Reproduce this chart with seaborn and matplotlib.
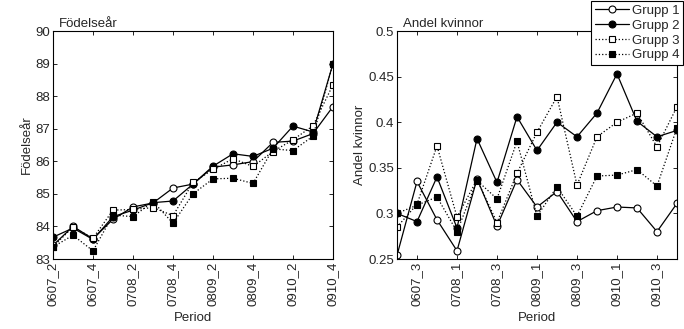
import numpy as np
import pandas as pd
import matplotlib
matplotlib.use("Agg")
import matplotlib.pyplot as plt
from matplotlib.ticker import FuncFormatter
import seaborn as sns

# --- data ---
periods = ["0607_2", "0607_3", "0607_4",
           "0708_1", "0708_2", "0708_3", "0708_4",
           "0809_1", "0809_2", "0809_3", "0809_4",
           "0910_1", "0910_2", "0910_3", "0910_4"]
groups = ["Grupp 1", "Grupp 2", "Grupp 3", "Grupp 4"]

fodelsear_g1 = [83.42, 84.00, 83.62, 84.22, 84.60, 84.72, 85.18, 85.30, 85.82, 85.89, 85.99, 86.58, 86.62, 86.85, 87.68]
fodelsear_g2 = [83.67, 83.95, 83.60, 84.30, 84.50, 84.73, 84.78, 85.30, 85.85, 86.23, 86.15, 86.40, 87.08, 86.90, 89.00]
fodelsear_g3 = [83.38, 83.98, 83.64, 84.50, 84.52, 84.58, 84.33, 85.35, 85.75, 86.08, 85.84, 86.30, 86.66, 87.09, 88.35]
fodelsear_g4 = [83.37, 83.73, 83.25, 84.35, 84.30, 84.76, 84.10, 85.00, 85.46, 85.48, 85.32, 86.38, 86.33, 86.77, 89.00]

kvinnor_g1 = [0.254, 0.335, 0.293, 0.259, 0.338, 0.286, 0.337, 0.307, 0.324, 0.291, 0.303, 0.307, 0.306, 0.280, 0.311]
kvinnor_g2 = [0.300, 0.291, 0.340, 0.284, 0.382, 0.334, 0.406, 0.369, 0.400, 0.384, 0.410, 0.453, 0.401, 0.384, 0.391]
kvinnor_g3 = [0.285, 0.310, 0.374, 0.296, 0.337, 0.290, 0.344, 0.389, 0.428, 0.331, 0.384, 0.400, 0.410, 0.373, 0.417]
kvinnor_g4 = [0.300, 0.309, 0.318, 0.280, 0.336, 0.316, 0.379, 0.297, 0.329, 0.297, 0.341, 0.342, 0.348, 0.330, 0.394]

styles = {
    "Grupp 1": dict(linestyle="-", marker="o", markerfacecolor="white"),
    "Grupp 2": dict(linestyle="-", marker="o", markerfacecolor="black"),
    "Grupp 3": dict(linestyle=":", marker="s", markerfacecolor="white"),
    "Grupp 4": dict(linestyle=":", marker="s", markerfacecolor="black"),
}

x = np.arange(len(periods))
left = pd.DataFrame(dict(zip(groups, [fodelsear_g1, fodelsear_g2, fodelsear_g3, fodelsear_g4])))
right = pd.DataFrame(dict(zip(groups, [kvinnor_g1, kvinnor_g2, kvinnor_g3, kvinnor_g4])))

sns.set_theme(style="ticks")
plt.rcParams["font.family"] = ["Liberation Sans", "DejaVu Sans"]
fs = 9.5

fig = plt.figure(figsize=(6.84, 3.29), dpi=100)
ax1 = fig.add_axes([53 / 684, 70 / 329, 280 / 684, 228 / 329])
ax2 = fig.add_axes([397 / 684, 70 / 329, 280 / 684, 228 / 329])

for ax, df in [(ax1, left), (ax2, right)]:
    for g in groups:
        sns.lineplot(x=x, y=df[g].values, ax=ax, color="black", lw=0.9,
                     markersize=5, markeredgecolor="black", markeredgewidth=0.8,
                     label=g, sort=False, **styles[g])
    ax.set_xlim(0, len(periods) - 1)
    ax.tick_params(direction="in", top=True, right=True, length=3, width=0.6,
                   labelsize=fs, color="black", pad=2)
    for s in ax.spines.values():
        s.set_linewidth(0.8)
        s.set_color("black")
    ax.set_xlabel("Period", fontsize=fs, labelpad=4)

handles, labels = ax2.get_legend_handles_labels()
ax1.get_legend().remove()
ax2.get_legend().remove()

# left panel
ax1.set_ylim(83, 90)
ax1.set_yticks(range(83, 91))
ax1.set_xticks(x[::2])
ax1.set_xticklabels(periods[::2], rotation=90)
ax1.set_ylabel("Födelseår", fontsize=fs, labelpad=2)
ax1.set_title("Födelseår", loc="left", fontsize=fs, pad=3, x=0.02)

# right panel
ax2.set_ylim(0.25, 0.5)
ax2.set_yticks(np.arange(0.25, 0.51, 0.05))
ax2.yaxis.set_major_formatter(FuncFormatter(lambda v, p: "%g" % round(v, 2)))
ax2.set_xticks(x[1::2])
ax2.set_xticklabels(periods[1::2], rotation=90)
ax2.set_ylabel("Andel kvinnor", fontsize=fs, labelpad=2)
ax2.set_title("Andel kvinnor", loc="left", fontsize=fs, pad=3, x=0.02)

leg = fig.legend(handles, labels, loc="upper right", bbox_to_anchor=(0.999, 0.998),
                 fontsize=fs, frameon=True, fancybox=False, framealpha=1,
                 edgecolor="black", handlelength=2.6, handletextpad=0.2,
                 borderpad=0.3, labelspacing=0.2, borderaxespad=0)
leg.get_frame().set_linewidth(0.8)

fig.savefig("out.png", dpi=100)
